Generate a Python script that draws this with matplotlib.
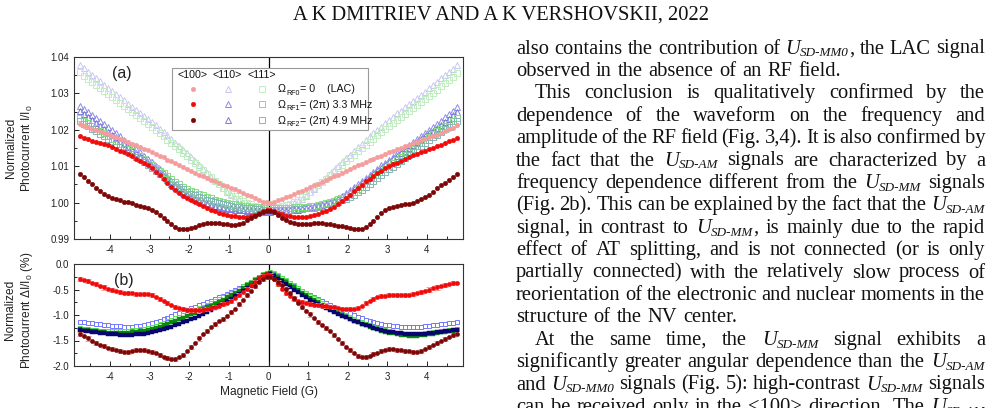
import re
import numpy as np
import matplotlib
matplotlib.use("Agg")
import matplotlib.pyplot as plt
from matplotlib.font_manager import FontProperties
from matplotlib.ticker import MultipleLocator, FormatStrFormatter
from matplotlib.lines import Line2D
from matplotlib.patches import Rectangle

# ---------------- data ----------------
field = np.linspace(-4.75, 4.75, 96)   # magnetic field sweep, G

# panel (a): normalized photocurrent I/I0
a_100_rf0 = [
    1.0215, 1.0211, 1.0207, 1.0203, 1.0200, 1.0196, 1.0192, 1.0188, 1.0184, 1.0180,
    1.0175, 1.0171, 1.0167, 1.0162, 1.0158, 1.0153, 1.0148, 1.0144, 1.0139, 1.0134,
    1.0129, 1.0124, 1.0118, 1.0113, 1.0108, 1.0103, 1.0097, 1.0092, 1.0087, 1.0082,
    1.0077, 1.0072, 1.0067, 1.0062, 1.0058, 1.0053, 1.0049, 1.0045, 1.0040, 1.0036,
    1.0031, 1.0027, 1.0022, 1.0017, 1.0012, 1.0007, 1.0003, 1.0001,
    1.0000, 1.0002, 1.0006, 1.0010, 1.0015, 1.0019, 1.0024, 1.0028, 1.0032, 1.0037,
    1.0042, 1.0047, 1.0052, 1.0057, 1.0062, 1.0067, 1.0072, 1.0077, 1.0082, 1.0087,
    1.0092, 1.0097, 1.0102, 1.0106, 1.0111, 1.0116, 1.0120, 1.0125, 1.0129, 1.0134,
    1.0138, 1.0142, 1.0147, 1.0151, 1.0155, 1.0159, 1.0163, 1.0167, 1.0171, 1.0175,
    1.0179, 1.0183, 1.0187, 1.0191, 1.0196, 1.0201, 1.0206, 1.0212]
a_100_rf1 = [
    1.0182, 1.0178, 1.0174, 1.0170, 1.0166, 1.0163, 1.0160, 1.0157, 1.0153, 1.0148,
    1.0143, 1.0138, 1.0133, 1.0127, 1.0121, 1.0115, 1.0109, 1.0103, 1.0095, 1.0085,
    1.0075, 1.0065, 1.0054, 1.0043, 1.0034, 1.0026, 1.0019, 1.0013, 1.0007, 1.0001,
    0.9995, 0.9990, 0.9985, 0.9980, 0.9976, 0.9972, 0.9969, 0.9966, 0.9964, 0.9962,
    0.9960, 0.9960, 0.9961, 0.9963, 0.9967, 0.9971, 0.9976, 0.9979,
    0.9979, 0.9976, 0.9972, 0.9968, 0.9964, 0.9962, 0.9960, 0.9960, 0.9960, 0.9961,
    0.9963, 0.9966, 0.9969, 0.9973, 0.9977, 0.9982, 0.9989, 0.9997, 1.0005, 1.0013,
    1.0022, 1.0031, 1.0040, 1.0049, 1.0058, 1.0066, 1.0074, 1.0081, 1.0088, 1.0094,
    1.0100, 1.0105, 1.0110, 1.0115, 1.0120, 1.0125, 1.0130, 1.0134, 1.0139, 1.0143,
    1.0147, 1.0151, 1.0155, 1.0159, 1.0163, 1.0168, 1.0172, 1.0177]
a_100_rf2 = [
    1.0079, 1.0070, 1.0060, 1.0050, 1.0040, 1.0031, 1.0024, 1.0018, 1.0013, 1.0009,
    1.0006, 1.0003, 1.0001, 0.9998, 0.9994, 0.9990, 0.9987, 0.9984, 0.9980, 0.9974,
    0.9966, 0.9958, 0.9949, 0.9940, 0.9933, 0.9928, 0.9927, 0.9928, 0.9930, 0.9934,
    0.9938, 0.9942, 0.9944, 0.9945, 0.9945, 0.9944, 0.9942, 0.9940, 0.9939, 0.9939,
    0.9941, 0.9945, 0.9951, 0.9957, 0.9964, 0.9970, 0.9975, 0.9978,
    0.9978, 0.9974, 0.9967, 0.9959, 0.9952, 0.9947, 0.9943, 0.9941, 0.9941, 0.9941,
    0.9942, 0.9943, 0.9943, 0.9943, 0.9942, 0.9941, 0.9939, 0.9937, 0.9935, 0.9932,
    0.9930, 0.9928, 0.9927, 0.9928, 0.9932, 0.9940, 0.9950, 0.9961, 0.9971, 0.9979,
    0.9984, 0.9988, 0.9991, 0.9993, 0.9995, 0.9997, 1.0000, 1.0004, 1.0009, 1.0015,
    1.0022, 1.0030, 1.0039, 1.0047, 1.0055, 1.0063, 1.0071, 1.0079]
a_110_rf0 = [
    1.0378, 1.0369, 1.0360, 1.0351, 1.0342, 1.0333, 1.0324, 1.0315, 1.0306, 1.0298,
    1.0289, 1.0281, 1.0272, 1.0264, 1.0255, 1.0247, 1.0238, 1.0229, 1.0221, 1.0212,
    1.0203, 1.0194, 1.0185, 1.0175, 1.0165, 1.0155, 1.0145, 1.0135, 1.0125, 1.0114,
    1.0103, 1.0092, 1.0081, 1.0070, 1.0060, 1.0050, 1.0040, 1.0030, 1.0021, 1.0013,
    1.0006, 1.0000, 0.9995, 0.9990, 0.9987, 0.9984, 0.9983, 0.9982,
    0.9982, 0.9983, 0.9984, 0.9986, 0.9989, 0.9993, 0.9998, 1.0004, 1.0011, 1.0019,
    1.0028, 1.0037, 1.0047, 1.0057, 1.0067, 1.0078, 1.0089, 1.0100, 1.0111, 1.0122,
    1.0132, 1.0142, 1.0152, 1.0162, 1.0172, 1.0182, 1.0191, 1.0200, 1.0209, 1.0218,
    1.0227, 1.0236, 1.0245, 1.0253, 1.0262, 1.0270, 1.0279, 1.0288, 1.0296, 1.0305,
    1.0314, 1.0323, 1.0332, 1.0341, 1.0350, 1.0359, 1.0368, 1.0377]
a_110_rf1 = [
    1.0265, 1.0257, 1.0249, 1.0241, 1.0232, 1.0224, 1.0216, 1.0207, 1.0199, 1.0190,
    1.0182, 1.0173, 1.0164, 1.0156, 1.0147, 1.0138, 1.0129, 1.0120, 1.0111, 1.0101,
    1.0091, 1.0080, 1.0069, 1.0059, 1.0049, 1.0040, 1.0032, 1.0024, 1.0017, 1.0011,
    1.0006, 1.0002, 0.9998, 0.9995, 0.9992, 0.9990, 0.9988, 0.9986, 0.9985, 0.9984,
    0.9982, 0.9981, 0.9980, 0.9979, 0.9978, 0.9978, 0.9977, 0.9977,
    0.9977, 0.9978, 0.9978, 0.9979, 0.9980, 0.9981, 0.9982, 0.9983, 0.9985, 0.9986,
    0.9988, 0.9990, 0.9993, 0.9996, 0.9999, 1.0003, 1.0008, 1.0013, 1.0019, 1.0026,
    1.0034, 1.0042, 1.0050, 1.0059, 1.0068, 1.0076, 1.0085, 1.0093, 1.0102, 1.0110,
    1.0118, 1.0126, 1.0135, 1.0143, 1.0151, 1.0159, 1.0167, 1.0175, 1.0183, 1.0191,
    1.0199, 1.0208, 1.0216, 1.0225, 1.0234, 1.0243, 1.0253, 1.0264]
a_110_rf2 = [
    1.0251, 1.0243, 1.0235, 1.0227, 1.0219, 1.0211, 1.0203, 1.0195, 1.0187, 1.0179,
    1.0170, 1.0162, 1.0154, 1.0145, 1.0137, 1.0128, 1.0119, 1.0110, 1.0101, 1.0092,
    1.0082, 1.0072, 1.0062, 1.0052, 1.0043, 1.0035, 1.0027, 1.0020, 1.0014, 1.0008,
    1.0003, 0.9999, 0.9995, 0.9992, 0.9989, 0.9987, 0.9985, 0.9983, 0.9982, 0.9981,
    0.9980, 0.9979, 0.9978, 0.9977, 0.9976, 0.9976, 0.9975, 0.9975,
    0.9975, 0.9976, 0.9976, 0.9977, 0.9978, 0.9979, 0.9980, 0.9981, 0.9982, 0.9984,
    0.9986, 0.9988, 0.9990, 0.9993, 0.9996, 1.0000, 1.0004, 1.0009, 1.0015, 1.0021,
    1.0028, 1.0036, 1.0044, 1.0053, 1.0061, 1.0070, 1.0078, 1.0087, 1.0095, 1.0103,
    1.0111, 1.0119, 1.0127, 1.0135, 1.0143, 1.0151, 1.0159, 1.0167, 1.0175, 1.0183,
    1.0190, 1.0198, 1.0206, 1.0214, 1.0222, 1.0231, 1.0240, 1.0250]
a_111_rf0 = [
    1.0358, 1.0349, 1.0340, 1.0332, 1.0323, 1.0315, 1.0306, 1.0298, 1.0289, 1.0281,
    1.0273, 1.0265, 1.0256, 1.0248, 1.0240, 1.0232, 1.0224, 1.0216, 1.0208, 1.0199,
    1.0191, 1.0182, 1.0173, 1.0164, 1.0155, 1.0146, 1.0137, 1.0128, 1.0118, 1.0109,
    1.0099, 1.0089, 1.0079, 1.0069, 1.0060, 1.0050, 1.0041, 1.0032, 1.0024, 1.0017,
    1.0010, 1.0004, 0.9999, 0.9995, 0.9991, 0.9989, 0.9987, 0.9986,
    0.9986, 0.9987, 0.9988, 0.9990, 0.9993, 0.9997, 1.0002, 1.0008, 1.0015, 1.0022,
    1.0030, 1.0039, 1.0048, 1.0057, 1.0066, 1.0076, 1.0085, 1.0095, 1.0104, 1.0114,
    1.0123, 1.0132, 1.0141, 1.0150, 1.0159, 1.0167, 1.0176, 1.0185, 1.0193, 1.0202,
    1.0210, 1.0218, 1.0227, 1.0235, 1.0243, 1.0252, 1.0260, 1.0268, 1.0277, 1.0285,
    1.0294, 1.0302, 1.0310, 1.0319, 1.0328, 1.0337, 1.0346, 1.0356]
a_111_rf1 = [
    1.0232, 1.0225, 1.0218, 1.0211, 1.0204, 1.0197, 1.0190, 1.0183, 1.0176, 1.0169,
    1.0162, 1.0155, 1.0148, 1.0141, 1.0134, 1.0127, 1.0120, 1.0112, 1.0104, 1.0096,
    1.0088, 1.0080, 1.0072, 1.0064, 1.0057, 1.0050, 1.0044, 1.0038, 1.0033, 1.0028,
    1.0024, 1.0020, 1.0016, 1.0012, 1.0008, 1.0005, 1.0002, 0.9999, 0.9997, 0.9995,
    0.9993, 0.9991, 0.9990, 0.9989, 0.9988, 0.9987, 0.9986, 0.9986,
    0.9986, 0.9986, 0.9986, 0.9986, 0.9986, 0.9986, 0.9987, 0.9987, 0.9988, 0.9989,
    0.9990, 0.9992, 0.9994, 0.9996, 0.9998, 1.0001, 1.0005, 1.0009, 1.0013, 1.0018,
    1.0023, 1.0030, 1.0037, 1.0044, 1.0052, 1.0060, 1.0068, 1.0076, 1.0084, 1.0092,
    1.0100, 1.0108, 1.0116, 1.0124, 1.0132, 1.0140, 1.0148, 1.0156, 1.0164, 1.0172,
    1.0180, 1.0188, 1.0196, 1.0203, 1.0210, 1.0217, 1.0224, 1.0232]
a_111_rf2 = [
    1.0224, 1.0217, 1.0210, 1.0203, 1.0196, 1.0189, 1.0182, 1.0175, 1.0168, 1.0161,
    1.0154, 1.0147, 1.0140, 1.0133, 1.0126, 1.0119, 1.0111, 1.0103, 1.0095, 1.0087,
    1.0079, 1.0071, 1.0063, 1.0056, 1.0049, 1.0042, 1.0036, 1.0030, 1.0025, 1.0020,
    1.0016, 1.0012, 1.0008, 1.0004, 1.0001, 0.9998, 0.9995, 0.9993, 0.9991, 0.9989,
    0.9987, 0.9986, 0.9985, 0.9984, 0.9983, 0.9982, 0.9981, 0.9981,
    0.9981, 0.9981, 0.9981, 0.9981, 0.9981, 0.9981, 0.9982, 0.9982, 0.9983, 0.9984,
    0.9985, 0.9986, 0.9988, 0.9990, 0.9992, 0.9995, 0.9998, 1.0002, 1.0006, 1.0010,
    1.0015, 1.0021, 1.0028, 1.0035, 1.0043, 1.0051, 1.0059, 1.0067, 1.0075, 1.0083,
    1.0091, 1.0099, 1.0107, 1.0115, 1.0123, 1.0131, 1.0139, 1.0147, 1.0155, 1.0163,
    1.0171, 1.0179, 1.0187, 1.0195, 1.0202, 1.0209, 1.0216, 1.0224]

# panel (b): normalized photocurrent difference dI/I0, %
b_red = [
    -0.30, -0.32, -0.34, -0.37, -0.40, -0.43, -0.46, -0.49, -0.51, -0.53,
    -0.55, -0.56, -0.57, -0.57, -0.58, -0.58, -0.58, -0.59, -0.61, -0.64,
    -0.68, -0.72, -0.76, -0.80, -0.84, -0.87, -0.89, -0.90, -0.91, -0.91,
    -0.91, -0.90, -0.89, -0.87, -0.85, -0.82, -0.79, -0.76, -0.72, -0.67,
    -0.61, -0.55, -0.49, -0.42, -0.35, -0.28, -0.23, -0.20,
    -0.21, -0.30, -0.40, -0.49, -0.57, -0.63, -0.68, -0.72, -0.75, -0.77,
    -0.79, -0.80, -0.81, -0.82, -0.83, -0.84, -0.85, -0.86, -0.88, -0.89,
    -0.89, -0.88, -0.86, -0.82, -0.77, -0.72, -0.68, -0.65, -0.63, -0.62,
    -0.61, -0.61, -0.61, -0.61, -0.61, -0.60, -0.58, -0.56, -0.54, -0.52,
    -0.50, -0.48, -0.46, -0.44, -0.42, -0.40, -0.38, -0.37]
b_darkred = [
    -1.37, -1.42, -1.46, -1.50, -1.54, -1.58, -1.61, -1.64, -1.66, -1.69,
    -1.71, -1.72, -1.72, -1.71, -1.69, -1.68, -1.68, -1.70, -1.72, -1.75,
    -1.79, -1.82, -1.85, -1.87, -1.86, -1.83, -1.78, -1.71, -1.63, -1.54,
    -1.46, -1.38, -1.31, -1.24, -1.18, -1.12, -1.07, -1.01, -0.95, -0.88,
    -0.79, -0.70, -0.61, -0.52, -0.43, -0.36, -0.30, -0.26,
    -0.26, -0.30, -0.35, -0.42, -0.49, -0.57, -0.66, -0.76, -0.84, -0.92,
    -0.99, -1.06, -1.13, -1.19, -1.25, -1.32, -1.40, -1.48, -1.55, -1.62,
    -1.68, -1.74, -1.80, -1.83, -1.83, -1.81, -1.77, -1.74, -1.71, -1.68,
    -1.67, -1.67, -1.68, -1.69, -1.70, -1.71, -1.72, -1.72, -1.70, -1.67,
    -1.63, -1.59, -1.55, -1.51, -1.47, -1.43, -1.40, -1.37]
b_lightblue = [
    -1.13, -1.14, -1.15, -1.16, -1.17, -1.18, -1.19, -1.20, -1.21, -1.22,
    -1.22, -1.23, -1.23, -1.23, -1.22, -1.21, -1.20, -1.18, -1.16, -1.14,
    -1.11, -1.08, -1.05, -1.02, -0.99, -0.96, -0.93, -0.90, -0.87, -0.84,
    -0.81, -0.78, -0.75, -0.72, -0.68, -0.65, -0.62, -0.58, -0.55, -0.51,
    -0.47, -0.43, -0.39, -0.35, -0.30, -0.25, -0.21, -0.19,
    -0.18, -0.20, -0.24, -0.28, -0.33, -0.38, -0.43, -0.48, -0.53, -0.57,
    -0.61, -0.65, -0.69, -0.73, -0.77, -0.81, -0.85, -0.88, -0.91, -0.94,
    -0.97, -1.00, -1.03, -1.06, -1.09, -1.11, -1.13, -1.15, -1.17, -1.19,
    -1.20, -1.21, -1.22, -1.23, -1.24, -1.24, -1.24, -1.24, -1.23, -1.22,
    -1.21, -1.20, -1.19, -1.18, -1.17, -1.16, -1.15, -1.14]
b_lightgreen = [
    -1.26, -1.27, -1.28, -1.29, -1.30, -1.31, -1.31, -1.32, -1.32, -1.32,
    -1.32, -1.32, -1.31, -1.30, -1.29, -1.28, -1.27, -1.25, -1.23, -1.21,
    -1.18, -1.15, -1.12, -1.09, -1.06, -1.03, -1.00, -0.97, -0.94, -0.91,
    -0.87, -0.84, -0.80, -0.77, -0.73, -0.69, -0.65, -0.61, -0.57, -0.53,
    -0.49, -0.44, -0.40, -0.35, -0.30, -0.25, -0.20, -0.17,
    -0.15, -0.18, -0.22, -0.27, -0.32, -0.37, -0.42, -0.47, -0.52, -0.57,
    -0.62, -0.67, -0.71, -0.76, -0.80, -0.84, -0.88, -0.92, -0.96, -1.00,
    -1.04, -1.08, -1.11, -1.14, -1.17, -1.20, -1.23, -1.25, -1.28, -1.30,
    -1.32, -1.33, -1.35, -1.36, -1.37, -1.38, -1.38, -1.38, -1.37, -1.36,
    -1.35, -1.34, -1.33, -1.32, -1.31, -1.30, -1.29, -1.28]
b_green = [
    -1.28, -1.29, -1.30, -1.31, -1.32, -1.33, -1.34, -1.35, -1.35, -1.35,
    -1.35, -1.35, -1.35, -1.34, -1.33, -1.32, -1.31, -1.29, -1.27, -1.25,
    -1.23, -1.20, -1.17, -1.14, -1.11, -1.08, -1.05, -1.02, -0.99, -0.96,
    -0.92, -0.89, -0.85, -0.82, -0.78, -0.74, -0.70, -0.65, -0.61, -0.56,
    -0.52, -0.47, -0.42, -0.37, -0.32, -0.27, -0.22, -0.19,
    -0.17, -0.21, -0.26, -0.31, -0.36, -0.41, -0.46, -0.51, -0.56, -0.61,
    -0.66, -0.71, -0.75, -0.80, -0.84, -0.88, -0.92, -0.96, -1.00, -1.04,
    -1.07, -1.11, -1.14, -1.17, -1.20, -1.23, -1.26, -1.28, -1.31, -1.33,
    -1.35, -1.36, -1.38, -1.39, -1.40, -1.41, -1.41, -1.41, -1.40, -1.39,
    -1.38, -1.37, -1.35, -1.34, -1.33, -1.32, -1.31, -1.29]
b_navy = [
    -1.30, -1.31, -1.32, -1.33, -1.34, -1.35, -1.36, -1.37, -1.38, -1.38,
    -1.39, -1.39, -1.39, -1.39, -1.38, -1.38, -1.37, -1.36, -1.34, -1.32,
    -1.30, -1.28, -1.26, -1.23, -1.20, -1.17, -1.14, -1.11, -1.08, -1.05,
    -1.02, -0.98, -0.95, -0.91, -0.87, -0.83, -0.78, -0.73, -0.68, -0.63,
    -0.58, -0.53, -0.48, -0.43, -0.37, -0.31, -0.26, -0.22,
    -0.20, -0.24, -0.29, -0.34, -0.40, -0.45, -0.50, -0.55, -0.60, -0.65,
    -0.70, -0.74, -0.78, -0.82, -0.86, -0.90, -0.94, -0.98, -1.01, -1.04,
    -1.07, -1.11, -1.14, -1.17, -1.20, -1.22, -1.25, -1.27, -1.29, -1.31,
    -1.33, -1.34, -1.35, -1.36, -1.37, -1.38, -1.38, -1.38, -1.38, -1.37,
    -1.36, -1.35, -1.34, -1.33, -1.32, -1.31, -1.30, -1.29]
b_err = 0.04

x_ticks = [-4, -3, -2, -1, 0, 1, 2, 3, 4]
orient_labels = ["<100>", "<110>", "<111>"]
rf_labels = [("RF0", "= 0    (LAC)"), ("RF1", "= (2\u03c0) 3.3 MHz"), ("RF2", "= (2\u03c0) 4.9 MHz")]

header = "A K DMITRIEV AND A K VERSHOVSKII, 2022"
body_lines = [
    ("j", "also contains the contribution of U_{SD-MM0}, the LAC signal"),
    ("l", "observed in the absence of an RF field."),
    ("ji", "This conclusion is qualitatively confirmed by the"),
    ("j", "dependence of the waveform on the frequency and"),
    ("j", "amplitude of the RF field (Fig. 3,4). It is also confirmed by"),
    ("j", "the fact that the U_{SD-AM} signals are characterized by a"),
    ("j", "frequency dependence different from the U_{SD-MM} signals"),
    ("j", "(Fig. 2b). This can be explained by the fact that the U_{SD-AM}"),
    ("j", "signal, in contrast to U_{SD-MM}, is mainly due to the rapid"),
    ("j", "effect of AT splitting, and is not connected (or is only"),
    ("j", "partially connected) with the relatively slow process of"),
    ("j", "reorientation of the electronic and nuclear moments in the"),
    ("l", "structure of the NV center."),
    ("ji", "At the same time, the U_{SD-MM} signal exhibits a"),
    ("j", "significantly greater angular dependence than the U_{SD-AM}"),
    ("j", "and U_{SD-MM0} signals (Fig. 5): high-contrast U_{SD-MM} signals"),
    ("j", "can be received only in the <100> direction. The U_{SD-AM}"),
]

# ---------------- styles ----------------
plt.rcParams["axes.unicode_minus"] = False
plt.rcParams["font.family"] = ["Liberation Sans", "DejaVu Sans"]
plt.rcParams["mathtext.fontset"] = "custom"
plt.rcParams["mathtext.rm"] = "Liberation Sans"
plt.rcParams["mathtext.it"] = "Liberation Sans:italic"
plt.rcParams["mathtext.bf"] = "Liberation Sans:bold"

W, H = 994, 408
fig = plt.figure(figsize=(W / 100, H / 100), dpi=100, facecolor="white")


def fx(px):
    return px / W


def fy(py):
    return 1 - py / H


AX_L, AX_R = 74, 463
axA = fig.add_axes([fx(AX_L), fy(239), (AX_R - AX_L) / W, (239 - 57) / H])
axB = fig.add_axes([fx(AX_L), fy(366), (AX_R - AX_L) / W, (366 - 264) / H])

st = {
    "100_0": dict(marker="o", ls="none", ms=3.3, mfc="#f59c9c", mec="#f59c9c", mew=0.3),
    "100_1": dict(marker="o", ls="none", ms=3.3, mfc="#f00a0a", mec="#f00a0a", mew=0.3),
    "100_2": dict(marker="o", ls="none", ms=3.3, mfc="#7d0606", mec="#7d0606", mew=0.3),
    "110_0": dict(marker="^", ls="none", ms=4.6, mfc="none", mec="#c8c8f2", mew=0.7),
    "110_1": dict(marker="^", ls="none", ms=4.6, mfc="none", mec="#8a8ae6", mew=0.7),
    "110_2": dict(marker="^", ls="none", ms=4.6, mfc="none", mec="#7c7cd6", mew=0.7),
    "111_0": dict(marker="s", ls="none", ms=3.9, mfc="none", mec="#c0eec0", mew=0.7),
    "111_1": dict(marker="s", ls="none", ms=3.9, mfc="none", mec="#86de86", mew=0.7),
    "111_2": dict(marker="s", ls="none", ms=3.9, mfc="none", mec="#86b6b6", mew=0.7),
}

axA.plot(field, a_110_rf0, **st["110_0"], zorder=2)
axA.plot(field, a_111_rf0, **st["111_0"], zorder=2)
axA.plot(field, a_110_rf1, **st["110_1"], zorder=2.1)
axA.plot(field, a_110_rf2, **st["110_2"], zorder=2.1)
axA.plot(field, a_111_rf1, **st["111_1"], zorder=2.2)
axA.plot(field, a_111_rf2, **st["111_2"], zorder=2.2)
axA.plot(field, a_100_rf0, **st["100_0"], zorder=3)
axA.plot(field, a_100_rf1, **st["100_1"], zorder=3.1)
axA.plot(field, a_100_rf2, **st["100_2"], zorder=3.2)

axB.plot(field, b_lightblue, marker="s", ls="none", ms=3.4, mfc="none", mec="#7676ff", mew=0.7, zorder=2)
axB.plot(field, b_lightgreen, marker="s", ls="none", ms=3.4, mfc="none", mec="#5ce65c", mew=0.7, zorder=2.1)
axB.plot(field, b_green, marker="s", ls="none", ms=3.0, mfc="#0a8a0a", mec="#0a8a0a", mew=0.3, zorder=2.2)
axB.plot(field, b_navy, marker="s", ls="none", ms=3.0, mfc="#06066e", mec="#06066e", mew=0.3, zorder=2.3)
axB.errorbar(field, b_red, yerr=b_err, fmt="none", ecolor="#f2a0a0", elinewidth=0.7,
             capsize=2, capthick=0.7, errorevery=2, zorder=2.4)
axB.errorbar(field, b_darkred, yerr=b_err, fmt="none", ecolor="#f2a0a0", elinewidth=0.7,
             capsize=2, capthick=0.7, errorevery=2, zorder=2.4)
axB.plot(field, b_red, marker="o", ls="none", ms=3.1, mfc="#f00a0a", mec="#f00a0a", mew=0.3, zorder=3)
axB.plot(field, b_darkred, marker="o", ls="none", ms=3.1, mfc="#7d0606", mec="#7d0606", mew=0.3, zorder=3.1)

for ax in (axA, axB):
    ax.set_xlim(-4.91, 4.91)
    ax.axvline(0, color="black", lw=0.9, zorder=1.5)
    ax.set_xticks(x_ticks)
    ax.xaxis.set_minor_locator(MultipleLocator(0.5))
    ax.tick_params(which="both", direction="in", top=False, right=False,
                   labelsize=7, colors="#222222", width=0.7)
    ax.tick_params(which="major", length=3.5, pad=4)
    ax.tick_params(which="minor", length=2)
    ax.tick_params(axis="y", which="major", pad=3.5)
    for sp in ax.spines.values():
        sp.set_linewidth(0.8)
        sp.set_color("#333333")

axA.set_ylim(0.99, 1.04)
axA.yaxis.set_major_locator(MultipleLocator(0.01))
axA.yaxis.set_minor_locator(MultipleLocator(0.005))
axA.yaxis.set_major_formatter(FormatStrFormatter("%.2f"))
axB.set_ylim(-2.0, 0.0)
axB.yaxis.set_major_locator(MultipleLocator(0.5))
axB.yaxis.set_minor_locator(MultipleLocator(0.25))
axB.yaxis.set_major_formatter(FormatStrFormatter("%.1f"))

lab_fs = 8.6
axA.set_ylabel("Normalized\nPhotocurrent I/I$_0$", fontsize=lab_fs, linespacing=1.3, color="#222222")
axA.yaxis.set_label_coords(-0.100, 0.5)
axB.set_ylabel("Normalized\nPhotocurrent \u0394I/I$_0$ (%)", fontsize=lab_fs, linespacing=1.3, color="#222222")
axB.yaxis.set_label_coords(-0.100, 0.55)
axB.set_xlabel("Magnetic Field (G)", fontsize=lab_fs, labelpad=3, color="#222222")

axA.text(0.123, 0.912, "(a)", transform=axA.transAxes, fontsize=11.5, ha="center", va="center", color="#222222")
axB.text(0.127, 0.843, "(b)", transform=axB.transAxes, fontsize=11.5, ha="center", va="center", color="#222222")

# ---------------- text helpers ----------------
fig.canvas.draw()
renderer = fig.canvas.get_renderer()


def tw(s, fp):
    w, h, d = renderer.get_text_width_height_descent(s, fp, ismath=False)
    return w


def parse_word(w):
    segs = []
    pos = 0
    for m in re.finditer(r"U_\{([^}]*)\}", w):
        if m.start() > pos:
            segs.append((w[pos:m.start()], "r"))
        segs.append(("U", "i"))
        segs.append((m.group(1), "s"))
        pos = m.end()
    if pos < len(w):
        segs.append((w[pos:], "r"))
    return segs


def draw_segs(x, yb, segs, fps, sub_dy, color="black", zorder=5):
    for t, k in segs:
        dy = sub_dy if k == "s" else 0
        fig.text(fx(x), fy(yb + dy), t, fontproperties=fps[k], ha="left", va="baseline",
                 color=color, zorder=zorder)
        x += tw(t, fps[k])
    return x


# ---------------- legend (panel a) ----------------
fig.add_artist(Rectangle((fx(172), fy(130)), (368 - 172) / W, (130 - 68) / H,
                         transform=fig.transFigure, facecolor="white",
                         edgecolor="#9a9a9a", lw=0.8, zorder=4))
leg_fp = {"r": FontProperties(family="Liberation Sans", size=7.7),
          "s": FontProperties(family="Liberation Sans", size=5.1)}
col_x = [193, 227.5, 261.5]
for cx, lab in zip(col_x, orient_labels):
    fig.text(fx(cx), fy(77.6), lab, fontproperties=leg_fp["r"], ha="center", va="baseline",
             zorder=6, color="#111111")
row_y = [88.7, 104.0, 120.0]
row_keys = [["100_0", "110_0", "111_0"], ["100_1", "110_1", "111_1"], ["100_2", "110_2", "111_2"]]
for ry, keys, (sub, rest) in zip(row_y, row_keys, rf_labels):
    for cx, key in zip(col_x, keys):
        fig.add_artist(Line2D([fx(cx)], [fy(ry)], transform=fig.transFigure, zorder=6, **st[key]))
    draw_segs(278.0, ry + 3.7, [("\u03a9", "r"), (sub, "s"), (rest, "r")], leg_fp, 2.3,
              color="#111111", zorder=6)

# ---------------- page text ----------------
def calib(s, family, style, target):
    fp = FontProperties(family=family, style=style, size=10)
    return 10 * target / tw(s, fp)


hdr_size = calib(header, "Liberation Serif", "normal", 417)
fig.text(fx(501.5), fy(20), header, fontproperties=FontProperties(family="Liberation Serif", size=hdr_size),
         ha="center", va="baseline", color="#111111")

bsize = calib("observed in the absence of an RF field.", "Liberation Serif", "normal", 333) * 0.96
body_fp = {"r": FontProperties(family="Liberation Serif", size=bsize),
           "i": FontProperties(family="Liberation Serif", style="italic", size=bsize),
           "s": FontProperties(family="Liberation Serif", style="italic", size=bsize * 0.64)}
space_w = (tw("a b", body_fp["r"]) - tw("ab", body_fp["r"])) * 1.15
X0, X1, INDENT = 516, 985, 19
for i, (mode, line) in enumerate(body_lines):
    yb = 53.5 + 22.4 * i
    words = line.split(" ")
    segs_list = [parse_word(w) for w in words]
    widths = [sum(tw(t, body_fp[k]) for t, k in segs) for segs in segs_list]
    x = X0 + (INDENT if "i" in mode else 0)
    if mode.startswith("j") and len(words) > 1:
        gap = (X1 - x - sum(widths)) / (len(words) - 1)
    else:
        gap = space_w
    for segs, wd in zip(segs_list, widths):
        draw_segs(x, yb, segs, body_fp, 3.0, color="#111111")
        x += wd + gap

fig.savefig("out.png", dpi=100, facecolor="white")
